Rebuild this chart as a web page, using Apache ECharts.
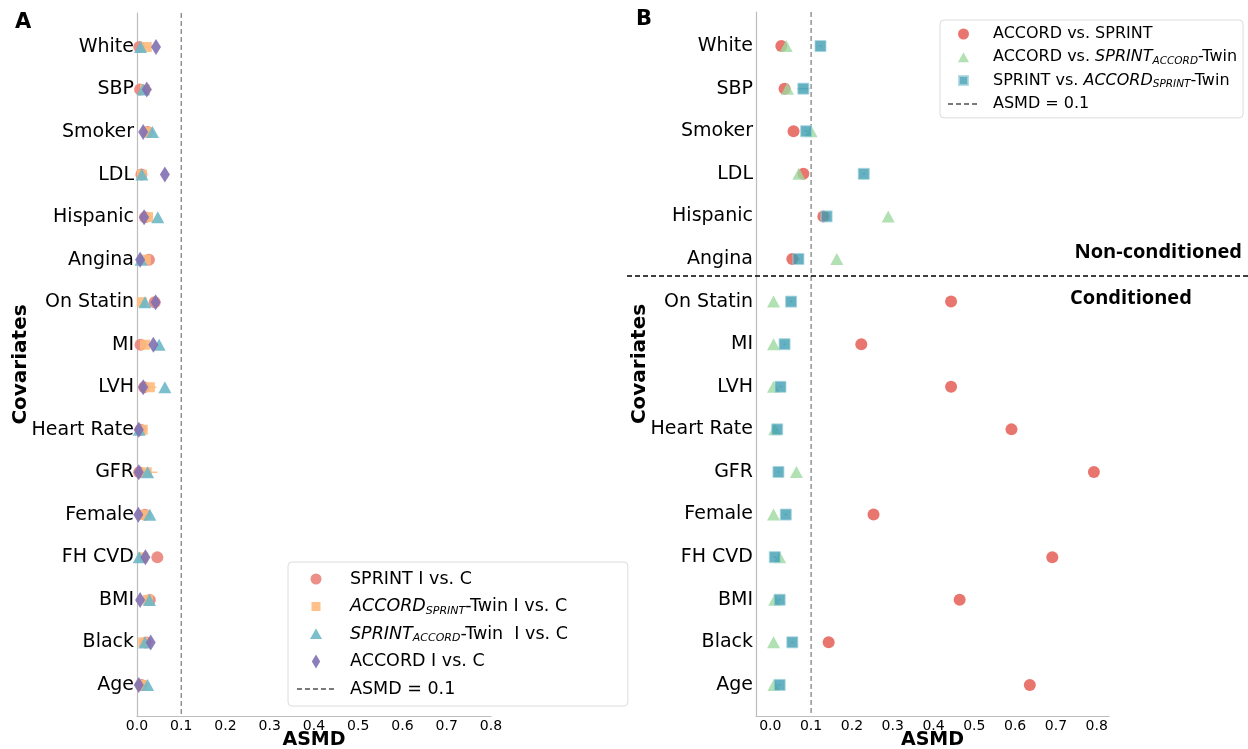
<!DOCTYPE html>
<html><head><meta charset="utf-8">
<script src="https://cdn.jsdelivr.net/npm/echarts@6/dist/echarts.min.js"></script>
<style>html,body{margin:0;padding:0;background:#fff}#c{width:1248px;height:749px}</style>
</head><body><div id="c"></div>
<script>
const covariates = ['White','SBP','Smoker','LDL','Hispanic','Angina','On Statin','MI','LVH','Heart Rate','GFR','Female','FH CVD','BMI','Black','Age'];
const xTicks = [0,0.1,0.2,0.3,0.4,0.5,0.6,0.7,0.8];
const threshold = 0.1;
const conditionSplit = 5.4; // separator between Angina and On Statin

// Panel A
const sprintIC      = [0.005,0.007,0.024,0.010,0.018,0.027,0.040,0.008,0.016,0.008,0.005,0.018,0.046,0.029,0.020,0.010];
const accordTwinIC  = [0.022,0.018,0.022,0.011,0.025,0.020,0.011,0.018,0.029,0.013,0.022,0.016,0.014,0.025,0.014,0.011];
const accordTwinErr = [0.012,0.016,0.005,0.004,0.011,0.005,0.006,0.011,0.015,0.004,0.024,0.006,0.005,0.005,0.006,0.006];
const sprintTwinIC  = [0.008,0.014,0.035,0.011,0.047,0.009,0.018,0.050,0.063,0.005,0.024,0.029,0.005,0.028,0.018,0.024];
const accordIC      = [0.043,0.022,0.014,0.063,0.016,0.007,0.042,0.037,0.014,0.004,0.004,0.003,0.019,0.007,0.031,0.004];

// Panel B
const accordVsSprint      = [0.027,0.035,0.057,0.081,0.130,0.054,0.443,0.223,0.443,0.591,0.793,0.253,0.691,0.464,0.143,0.636];
const accordVsSprintTwin  = [0.039,0.042,0.100,0.070,0.289,0.163,0.008,0.008,0.008,0.011,0.064,0.008,0.023,0.011,0.008,0.009];
const sprintVsAccordTwin  = [0.123,0.081,0.088,0.229,0.138,0.069,0.051,0.035,0.025,0.017,0.020,0.038,0.011,0.023,0.054,0.023];
const sprintVsAccordTwinErr = [0.003,0.015,0.004,0.003,0.004,0.003,0.003,0.003,0.003,0.003,0.003,0.003,0.003,0.003,0.003,0.003];

const FONT = 'DejaVu Sans';
const diamond = 'path://M5,0 L10,8 L5,16 L0,8 Z';
// legend icons (padded frames so the library keeps their size)
const icoA = {
  circle:'path://M0,0M14,14M12.5,7A5.5,5.5,0,1,1,1.5,7A5.5,5.5,0,1,1,12.5,7Z',
  square:'path://M0,0M14,14M2.5,2.5L11.5,2.5L11.5,11.5L2.5,11.5Z',
  triangle:'path://M0,0M14,14M7,1.5L13,12L1,12Z',
  diamond:'path://M0,0M14,14M7,0L11.2,7L7,14L2.8,7Z'
};
const icoB = {
  circle:'path://M0,0M13,13M12,6.5A5.5,5.5,0,1,1,1,6.5A5.5,5.5,0,1,1,12,6.5Z',
  triangle:'path://M0,0M13,13M6.5,1.5L12,11.5L1,11.5Z',
  square:'path://M0,0M13,13M2,2L11,2L11,11L2,11Z'
};

function pts(vals){ return vals.map((v,i)=>[v,i]); }
function errData(vals, errs){ return vals.map((v,i)=>[v-errs[i], v+errs[i], i]); }
function errSeries(name, vals, errs, color, xi){
  return {
    type:'custom', name:name, xAxisIndex:xi, yAxisIndex:xi, silent:true,
    data: errData(vals, errs), z:1,
    renderItem:function(params, api){
      const a = api.coord([api.value(0), api.value(2)]);
      const b = api.coord([api.value(1), api.value(2)]);
      return {type:'line', shape:{x1:a[0],y1:a[1],x2:b[0],y2:b[1]}, style:{stroke:color, lineWidth:1.6, opacity:0.85}};
    }
  };
}

function yAxis(gi){
  return {
    type:'value', gridIndex:gi, inverse:true, min:-0.8, max:15.73,
    axisLine:{show:true, onZero:false, lineStyle:{color:'#bdbdbd', width:1.2}},
    axisTick:{show:false}, splitLine:{show:false},
    axisLabel:{customValues: covariates.map((c,i)=>i), formatter:v=>covariates[Math.round(v)], color:'#000', fontSize:19, fontFamily:FONT, margin:3},
    name:'Covariates', nameLocation:'middle', nameRotate:90, nameGap:106, nameMoveOverlap:false,
    nameTextStyle:{fontSize:20, fontWeight:'bold', fontFamily:FONT, color:'#000'}
  };
}
function xAxis(gi, min, max){
  return {
    type:'value', gridIndex:gi, min:min, max:max,
    axisLine:{show:true, onZero:false, lineStyle:{color:'#bdbdbd', width:1.2}},
    axisTick:{show:false}, splitLine:{show:false},
    axisLabel:{customValues:xTicks, formatter:v=>v.toFixed(1), color:'#000', fontSize:14, fontFamily:FONT, margin:3, showMinLabel:true, showMaxLabel:true},
    name:'ASMD', nameLocation:'middle', nameGap:24, nameMoveOverlap:false,
    nameTextStyle:{fontSize:19, fontWeight:'bold', fontFamily:FONT, color:'#000', verticalAlign:'middle'}
  };
}

const richA = {
  'SPRINT I vs. C':'{n|SPRINT I vs. C}',
  'ACCORD_SPRINT-Twin I vs. C':'{it|ACCORD}{sub|SPRINT}{n|-Twin I vs. C}',
  'SPRINT_ACCORD-Twin I vs. C':'{it|SPRINT}{sub|ACCORD}{n|-Twin  I vs. C}',
  'ACCORD I vs. C':'{n|ACCORD I vs. C}',
  'ASMD = 0.1 ':'{n|ASMD = 0.1}'
};
const richB = {
  'ACCORD vs. SPRINT':'{n|ACCORD vs. SPRINT}',
  'ACCORD vs. SPRINT_ACCORD-Twin':'{n|ACCORD vs. }{it|SPRINT}{sub|ACCORD}{n|-Twin}',
  'SPRINT vs. ACCORD_SPRINT-Twin':'{n|SPRINT vs. }{it|ACCORD}{sub|SPRINT}{n|-Twin}',
  'ASMD = 0.1':'{n|ASMD = 0.1}'
};
function richStyle(fs, sfs, lh){
  return {
    n:{fontSize:fs, fontFamily:FONT, color:'#000', lineHeight:lh},
    it:{fontSize:fs, fontFamily:FONT, fontStyle:'italic', color:'#000', lineHeight:lh},
    sub:{fontSize:sfs, fontFamily:FONT, fontStyle:'italic', color:'#000', lineHeight:sfs, verticalAlign:'bottom'}
  };
}

const colA = {salmon:'#E9837A', orange:'#FDBA7C', teal:'#6DB8C8', purple:'#8170B3'};
const colB = {red:'#E4534B', green:'#9ED89F', blue:'#3F9DB1'};

const chart = echarts.init(document.getElementById('c'), null, {renderer:'canvas'});
const option = {
  backgroundColor:'#fff',
  animation:false,
  grid:[
    {left:137, top:13, width:354, height:703, outerBoundsMode:'none', containLabel:false},
    {left:756, top:12, width:353, height:704, outerBoundsMode:'none', containLabel:false}
  ],
  xAxis:[xAxis(0,0,0.8), xAxis(1,-0.035,0.83)],
  yAxis:[yAxis(0), yAxis(1)],
  legend:[
    {
      data:[
        {name:'SPRINT I vs. C', icon:icoA.circle},
        {name:'ACCORD_SPRINT-Twin I vs. C', icon:icoA.square},
        {name:'SPRINT_ACCORD-Twin I vs. C', icon:icoA.triangle},
        {name:'ACCORD I vs. C', icon:icoA.diamond},
        {name:'ASMD = 0.1 '}
      ],
      left:288, top:562, orient:'vertical',
      itemWidth:38, itemHeight:14, itemGap:7.5,
      padding:[7,60,7,8], borderColor:'#dcdcdc', borderWidth:1, borderRadius:4,
      backgroundColor:'#fff',
      textStyle:{fontSize:17.5, fontFamily:FONT, color:'#000', padding:[0,0,0,10], lineHeight:20, height:20, rich:richStyle(17.5,11,20)},
      formatter:n=>richA[n], selectedMode:false
    },
    {
      data:[
        {name:'ACCORD vs. SPRINT', icon:icoB.circle},
        {name:'ACCORD vs. SPRINT_ACCORD-Twin', icon:icoB.triangle},
        {name:'SPRINT vs. ACCORD_SPRINT-Twin', icon:icoB.square},
        {name:'ASMD = 0.1'}
      ],
      left:940, top:20, orient:'vertical',
      itemWidth:31, itemHeight:13, itemGap:5.3,
      padding:[5,6,5,7], borderColor:'#dcdcdc', borderWidth:1, borderRadius:4,
      backgroundColor:'#fff',
      textStyle:{fontSize:16, fontFamily:FONT, color:'#000', padding:[0,0,0,9], lineHeight:18, height:18, rich:richStyle(16,10.5,18)},
      formatter:n=>richB[n], selectedMode:false
    }
  ],
  series:[
    // Panel A
    {type:'line', name:'ASMD = 0.1 ', xAxisIndex:0, yAxisIndex:0, data:[[threshold,-0.8],[threshold,15.73]], symbol:'none', silent:true,
      lineStyle:{type:[5,3], color:'#7a7a7a', width:1.2}, itemStyle:{color:'#7a7a7a', opacity:0}, z:0},
    errSeries('errA', accordTwinIC, accordTwinErr, colA.orange, 0),
    {type:'scatter', name:'SPRINT I vs. C', xAxisIndex:0, yAxisIndex:0, data:pts(sprintIC), symbol:'circle', symbolSize:12,
      itemStyle:{color:colA.salmon, opacity:0.9}, z:2},
    {type:'scatter', name:'ACCORD_SPRINT-Twin I vs. C', xAxisIndex:0, yAxisIndex:0, data:pts(accordTwinIC), symbol:'rect', symbolSize:10,
      itemStyle:{color:colA.orange, opacity:0.9}, z:3},
    {type:'scatter', name:'SPRINT_ACCORD-Twin I vs. C', xAxisIndex:0, yAxisIndex:0, data:pts(sprintTwinIC), symbol:'triangle', symbolSize:[13,12],
      itemStyle:{color:colA.teal, opacity:0.9}, z:4},
    {type:'scatter', name:'ACCORD I vs. C', xAxisIndex:0, yAxisIndex:0, data:pts(accordIC), symbol:diamond, symbolSize:[10,16],
      itemStyle:{color:colA.purple, opacity:0.9}, z:5},
    // Panel B
    {type:'line', name:'ASMD = 0.1', xAxisIndex:1, yAxisIndex:1, data:[[threshold,-0.8],[threshold,15.73]], symbol:'none', silent:true,
      lineStyle:{type:[5,3], color:'#7a7a7a', width:1.2}, itemStyle:{color:'#7a7a7a', opacity:0}, z:0},
    {type:'scatter', name:'ACCORD vs. SPRINT', xAxisIndex:1, yAxisIndex:1, data:pts(accordVsSprint), symbol:'circle', symbolSize:12,
      itemStyle:{color:colB.red}, z:2},
    {type:'scatter', name:'ACCORD vs. SPRINT_ACCORD-Twin', xAxisIndex:1, yAxisIndex:1, data:pts(accordVsSprintTwin), symbol:'triangle', symbolSize:[13,12],
      itemStyle:{color:colB.green}, z:3},
    errSeries('errB', sprintVsAccordTwin, sprintVsAccordTwinErr, '#7fc0cf', 1),
    {type:'scatter', name:'SPRINT vs. ACCORD_SPRINT-Twin', xAxisIndex:1, yAxisIndex:1, data:pts(sprintVsAccordTwin), symbol:'rect', symbolSize:11,
      itemStyle:{color:colB.blue, borderColor:'#a8d5df', borderWidth:1}, z:4}
  ]
};
chart.setOption(option);

const ySplit = chart.convertToPixel({yAxisIndex:1}, conditionSplit);
chart.setOption({
  graphic:[
    {type:'text', left:15, top:12, style:{text:'A', fontSize:21, fontWeight:'bold', fontFamily:FONT, fill:'#000'}},
    {type:'text', left:636, top:9, style:{text:'B', fontSize:21, fontWeight:'bold', fontFamily:FONT, fill:'#000'}},
    {type:'line', shape:{x1:627, y1:ySplit, x2:1248, y2:ySplit}, style:{stroke:'#000', lineWidth:1.6, lineDash:[5,3]}, z:10},
    {type:'text', x:1242, y:ySplit-24, style:{text:'Non-conditioned', fontSize:20, fontWeight:'bold', fontFamily:'Open Sans', fill:'#000', align:'right', verticalAlign:'middle'}},
    {type:'text', x:1070, y:ySplit+22, style:{text:'Conditioned', fontSize:20, fontWeight:'bold', fontFamily:'Open Sans', fill:'#000', align:'left', verticalAlign:'middle'}}
  ]
});
</script>
</body></html>
